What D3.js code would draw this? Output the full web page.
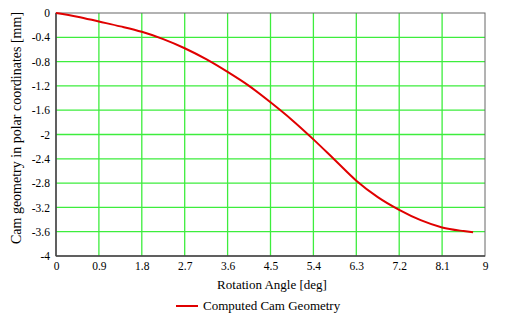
<!DOCTYPE html>
<html><head><meta charset="utf-8">
<script src="https://cdn.jsdelivr.net/npm/d3@7"></script>
<style>body{margin:0;background:#fff}svg{display:block}text{font-family:"Liberation Serif","Times New Roman",serif;fill:#000}</style>
</head><body><svg id="c" width="527" height="324"></svg>
<script>
const angles = [0,0.45,0.9,1.35,1.8,2.25,2.7,3.15,3.6,4.05,4.5,4.95,5.4,5.85,6.3,6.75,7.2,7.65,8.1,8.55,8.75];
const geometry = [0,-0.06,-0.14,-0.22,-0.31,-0.43,-0.58,-0.76,-0.97,-1.2,-1.47,-1.76,-2.08,-2.42,-2.76,-3.03,-3.24,-3.41,-3.53,-3.59,-3.61];
const xTicks = [0,0.9,1.8,2.7,3.6,4.5,5.4,6.3,7.2,8.1,9];
const yTicks = [0,-0.4,-0.8,-1.2,-1.6,-2,-2.4,-2.8,-3.2,-3.6,-4];
const xTitle = "Rotation Angle [deg]";
const yTitle = "Cam geometry in polar coordinates [mm]";
const legendLabel = "Computed Cam Geometry";

const L=56,R=485,T=13,B=256;
const svg=d3.select("#c");
const x=d3.scaleLinear().domain([0,9]).range([L,R]);
const y=d3.scaleLinear().domain([-4,0]).range([B,T]);
const fmt=d=>String(d);

// grid
svg.append("g").selectAll("line").data(xTicks.slice(1,-1)).join("line")
  .attr("x1",d=>x(d)).attr("x2",d=>x(d)).attr("y1",T).attr("y2",B)
  .attr("stroke","#3ded3d").attr("stroke-width",1.3);
svg.append("g").selectAll("line").data(yTicks.slice(1,-1)).join("line")
  .attr("y1",d=>y(d)).attr("y2",d=>y(d)).attr("x1",L).attr("x2",R)
  .attr("stroke","#3ded3d").attr("stroke-width",1.3);

// border
svg.append("rect").attr("x",L).attr("y",T).attr("width",R-L).attr("height",B-T)
  .attr("fill","none").attr("stroke","#666").attr("stroke-width",1);
svg.append("line").attr("x1",L).attr("x2",L).attr("y1",T).attr("y2",B).attr("stroke","#444").attr("stroke-width",1.5);
svg.append("line").attr("x1",L).attr("x2",R).attr("y1",B).attr("y2",B).attr("stroke","#444").attr("stroke-width",1.5);

// axes labels via d3 axes
const ax=svg.append("g").attr("transform",`translate(0,${B})`)
  .call(d3.axisBottom(x).tickValues(xTicks).tickFormat(fmt).tickSize(0).tickPadding(6));
const ay=svg.append("g").attr("transform",`translate(${L},0)`)
  .call(d3.axisLeft(y).tickValues(yTicks).tickFormat(fmt).tickSize(0).tickPadding(6));
[ax,ay].forEach(g=>{g.select(".domain").remove();g.selectAll("text").attr("font-size",11.5).attr("font-family","Liberation Serif");});

// line
svg.append("path").datum(angles.map((a,i)=>[a,geometry[i]]))
  .attr("d",d3.line().x(d=>x(d[0])).y(d=>y(d[1])).curve(d3.curveMonotoneX))
  .attr("fill","none").attr("stroke","#e00000").attr("stroke-width",2);

// titles
svg.append("text").attr("x",272).attr("y",289).attr("text-anchor","middle").attr("font-size",13).text(xTitle);
svg.append("text").attr("transform",`translate(21,128) rotate(-90)`).attr("text-anchor","middle").attr("font-size",14).text(yTitle);

// legend
svg.append("line").attr("x1",176).attr("x2",198).attr("y1",306).attr("y2",306).attr("stroke","#e00000").attr("stroke-width",2);
svg.append("text").attr("x",203).attr("y",310).attr("font-size",13).text(legendLabel);
</script></body></html>
